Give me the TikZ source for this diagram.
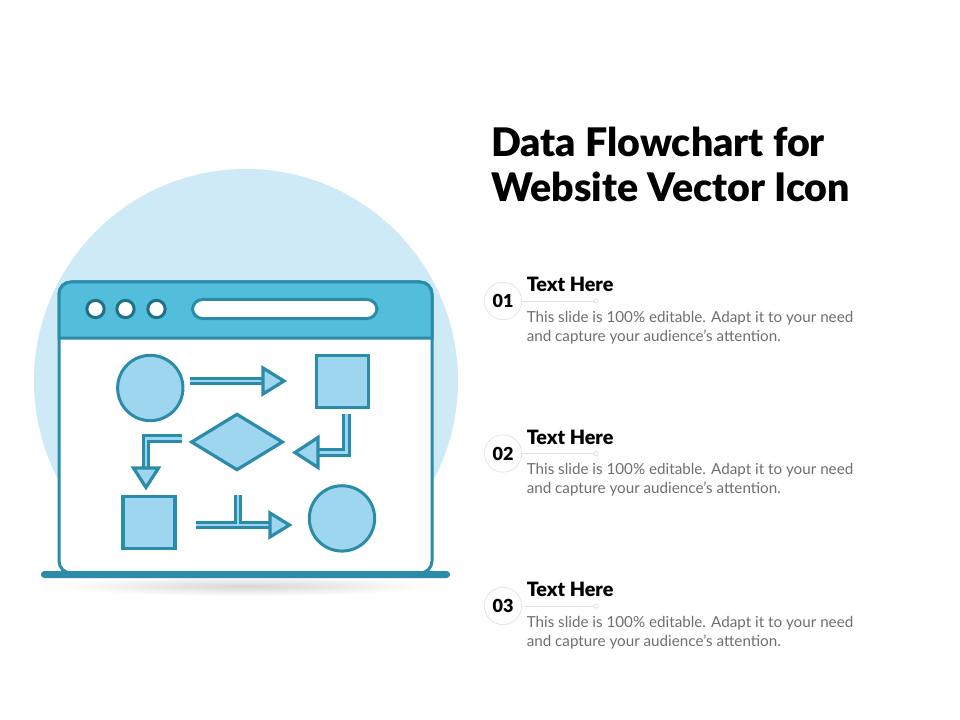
\documentclass[tikz,border=0pt]{standalone}
\usepackage{fontspec}
\setmainfont{Lato}
\newfontfamily\heavyfont{Lato Black}
\usetikzlibrary{shapes.geometric,calc}
\definecolor{circlebg}{HTML}{CDEAF6}
\definecolor{headerblue}{HTML}{53BEDC}
\definecolor{shapeblue}{HTML}{9FD6EF}
\definecolor{edgeteal}{HTML}{2A8CA8}
\definecolor{dotteal}{HTML}{1F6F85}
\definecolor{bodygray}{HTML}{6E6E6E}
\definecolor{ringgray}{HTML}{E2E2E2}
\tikzset{
  roundshape/.style={circle,draw=edgeteal,fill=shapeblue,line width=2.25pt,minimum size=49pt,inner sep=0pt},
  squareshape/.style={rectangle,draw=edgeteal,fill=shapeblue,line width=2.6pt,minimum size=38.8pt,inner sep=0pt},
  diamondshape/.style={diamond,draw=edgeteal,fill=shapeblue,line width=2.4pt,minimum width=69pt,minimum height=42.5pt,inner sep=0pt},
  windowdot/.style={circle,draw=dotteal,fill=white,line width=2.25pt,minimum size=13pt,inner sep=0pt},
  flowarrow/.style={draw=edgeteal,fill=shapeblue,line width=2.4pt,line join=miter},
  flowline/.style={draw=edgeteal,double=shapeblue,double distance=2.1pt,line width=2.25pt},
  numring/.style={circle,draw=ringgray,fill=white,line width=.5pt,minimum size=28pt,inner sep=0pt,font=\fontsize{13.5}{14}\heavyfont},
  headtext/.style={anchor=west,inner sep=0pt,font=\fontsize{14.8}{15}\heavyfont},
  bodytext/.style={anchor=north west,inner sep=0pt,align=left,text=bodygray,font=\fontsize{11.4}{14}\selectfont},
  titletext/.style={anchor=north west,inner sep=0pt,align=left,font=\fontsize{29.5}{33.5}\heavyfont},
  leadline/.style={draw=ringgray,line width=.6pt}
}
\begin{document}
\begin{tikzpicture}[x=.75pt,y=-.75pt]
\useasboundingbox (0,0) rectangle (960,720);
% backdrop and shadow
\fill[circlebg] (246,381) circle (212);
\fill[white] (0,574) rectangle (500,720);
\shade[inner color=black!16,outer color=white] (245,586) ellipse (185 and 10);
% browser window
\draw[edgeteal,fill=white,line width=2.25pt,rounded corners=9pt] (59,282) rectangle (432,573);
\draw[edgeteal,fill=headerblue,line width=2.25pt] (59,338) [rounded corners=9pt] -- (59,282) -- (432,282) [sharp corners] -- (432,338) -- cycle;
\fill[edgeteal,rounded corners=2.5pt] (41,571) rectangle (450,578);
\node[windowdot] (dotA) at (95.5,309) {};
\node[windowdot] (dotB) at (125.5,309) {};
\node[windowdot] (dotC) at (156.5,309) {};
\draw[edgeteal,fill=white,line width=2.25pt,rounded corners=7.5pt] (192.5,299.5) rectangle (377,318.5);
% flow shapes
\node[roundshape] (startround) at (150.3,388) {};
\node[squareshape] (topsquare) at (342.5,381.5) {};
\node[diamondshape] (decision) at (237,442) {};
\node[squareshape] (lowsquare) at (149,522.5) {};
\node[roundshape] (endround) at (342,518.4) {};
% flow arrows
\coordinate (arrAs) at (190,381);
\coordinate (arrAb) at (264,381);
\coordinate (arrBs) at (346.5,414);
\coordinate (arrBc) at (346.5,452.5);
\coordinate (arrBb) at (319,452.5);
\coordinate (arrCs) at (182,438.7);
\coordinate (arrCc) at (146,438.7);
\coordinate (arrCb) at (146,468);
\coordinate (arrDs) at (196,525);
\coordinate (arrDb) at (271,525);
\coordinate (arrDt) at (238,495);
\coordinate (arrDm) at (238,525);
\draw[flowline] (arrAs) -- (arrAb);
\draw[flowarrow] (arrAb)++(-1,-13) -- (284,381) -- ($(arrAb)+(-1,13)$) -- cycle;
\draw[flowline] (arrBs) -- (arrBc) -- (arrBb);
\draw[flowarrow] (arrBb)++(-1,-15) -- (295,452.5) -- ($(arrBb)+(-1,15)$) -- cycle;
\draw[flowline] (arrCs) -- (arrCc) -- (arrCb);
\draw[flowarrow] (arrCb)++(-12.5,0) -- (146,487.5) -- ($(arrCb)+(12.5,0)$) -- cycle;
\draw[flowline] (arrDt) -- (arrDm) (arrDs) -- (arrDb);
\draw[flowarrow] (arrDb)++(-1,-12) -- (289.5,525) -- ($(arrDb)+(-1,12)$) -- cycle;
% title
\node[titletext] (title) at (491,127) {Data Flowchart for\\Website Vector Icon};
% text blocks
\foreach \i/\n/\y in {1/01/301,2/02/453.5,3/03/606}{
  \node[numring] (ring\i) at (503,\y) {\n};
  \coordinate (lead\i) at (596,\y);
  \draw[leadline] (ring\i) -- (lead\i);
  \draw[leadline,fill=white] (lead\i) circle (2.2);
  \node[headtext] (head\i) at (526.5,\y-16.5) {Text Here};
  \node[bodytext] (body\i) at (526.5,\y+10) {This slide is 100\% editable. Adapt it to your need\\and capture your audience's attention.};
}
\end{tikzpicture}
\end{document}
